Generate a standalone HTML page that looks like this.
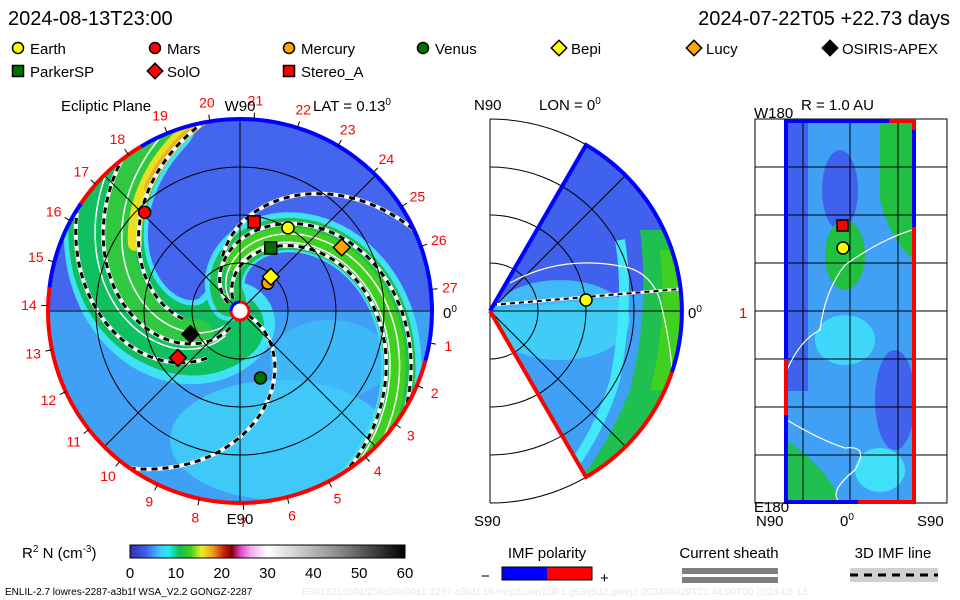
<!DOCTYPE html>
<html><head><meta charset="utf-8">
<style>
html,body{margin:0;padding:0;background:#fff;}
svg{display:block;font-family:"Liberation Sans",sans-serif;}
</style></head>
<body>
<svg id="chart" width="960" height="600" viewBox="0 0 960 600" xmlns="http://www.w3.org/2000/svg">
<defs>
  <clipPath id="circClip"><circle cx="240" cy="310" r="192"/></clipPath>
  <clipPath id="wedgeClip"><path d="M490,311 L586,145 A192,192 0 0 1 586,477 Z"/></clipPath>
  <linearGradient id="cbar" x1="0" x2="1" y1="0" y2="0">
    <stop offset="0" stop-color="#3030b0"/>
    <stop offset="0.06" stop-color="#4060f0"/>
    <stop offset="0.11" stop-color="#40c8ff"/>
    <stop offset="0.14" stop-color="#20f0f0"/>
    <stop offset="0.18" stop-color="#10c050"/>
    <stop offset="0.22" stop-color="#40d020"/>
    <stop offset="0.26" stop-color="#e8f020"/>
    <stop offset="0.30" stop-color="#f0a020"/>
    <stop offset="0.34" stop-color="#d02010"/>
    <stop offset="0.37" stop-color="#800000"/>
    <stop offset="0.40" stop-color="#e040c0"/>
    <stop offset="0.44" stop-color="#f0b0f0"/>
    <stop offset="0.50" stop-color="#ffffff"/>
    <stop offset="0.75" stop-color="#909090"/>
    <stop offset="1" stop-color="#000000"/>
  </linearGradient>
</defs>

<text x="8" y="25" font-size="20">2024-08-13T23:00</text>
<text x="950" y="25" font-size="20" text-anchor="end">2024-07-22T05  +22.73 days</text>

<g id="legend"></g>

<g>
  <text x="61" y="111" font-size="15">Ecliptic Plane</text>
  <text x="313" y="111" font-size="15">LAT = 0.13<tspan font-size="10" dy="-6">0</tspan></text>
  <g clip-path="url(#circClip)">
    <circle cx="240" cy="310" r="192" fill="#4466ee"/>
    <path d="M48,310 A192,192 0 0 0 432,310 Z" fill="#3fa0f6"/>
    <ellipse cx="280" cy="440" rx="110" ry="60" fill="#40d8fa" opacity="0.7"/>
    <ellipse cx="330" cy="360" rx="60" ry="40" fill="#40c8fa" opacity="0.6"/>
  </g>
  <g clip-path="url(#circClip)" id="eclArms"></g>
  <g id="eclGrid"></g>
  <g id="eclBorder"></g>
  <g id="eclDays"></g>
  <text x="240" y="111" font-size="15" text-anchor="middle">W90</text>
  <text x="240" y="524" font-size="15" text-anchor="middle">E90</text>
  <text x="443" y="318" font-size="15">0<tspan font-size="10" dy="-6">0</tspan></text>
  <g id="eclMarkers"></g>
  <circle cx="240" cy="311" r="9" fill="#fff" stroke="#f00" stroke-width="3"/>
  <path d="M231,311 A9,9 0 0 1 240,302" fill="none" stroke="#00f" stroke-width="3"/>
</g>

<g>
  <text x="474" y="110" font-size="15">N90</text>
  <text x="539" y="110" font-size="15">LON = 0<tspan font-size="10" dy="-6">0</tspan></text>
  <g clip-path="url(#wedgeClip)">
    <rect x="480" y="130" width="220" height="360" fill="#3fa0f6"/>
    <path d="M490,311 L586,145 A192,192 0 0 1 680,290 Z" fill="#4060ee"/>
    <ellipse cx="560" cy="320" rx="70" ry="40" fill="#40e0fa" opacity="0.7"/>
    <path d="M640,230 Q650,310 630,390 Q610,440 580,480 L700,480 L700,230 Z" fill="#20c050"/>
    <path d="M660,250 Q668,320 650,390 L700,390 L700,250 Z" fill="#40d020"/>
    <path d="M620,240 Q630,300 615,380 Q600,430 570,470" fill="none" stroke="#40e8f8" stroke-width="10"/>
  </g>
  <g id="merGrid"></g>
  <path d="M510,283 Q560,255 620,266 Q650,270 660,300 Q670,340 672,370" fill="none" stroke="#fff" stroke-width="1.2"/>
  <path d="M492,305 L680,289" stroke="#fff" stroke-width="3"/>
  <path d="M492,305 L680,289" stroke="#000" stroke-width="2" stroke-dasharray="5 4"/>
  <path d="M490,311 L586,145 A192,192 0 0 1 672,372" fill="none" stroke="#0000ff" stroke-width="4"/>
  <path d="M672,372 A192,192 0 0 1 586,477 L490,311" fill="none" stroke="#ff0000" stroke-width="4"/>
  <circle cx="586" cy="300" r="6" fill="#ffff00" stroke="#000" stroke-width="1.5"/>
  <text x="474" y="526" font-size="15">S90</text>
  <text x="688" y="318" font-size="15">0<tspan font-size="10" dy="-6">0</tspan></text>
</g>

<g>
  <text x="754" y="118" font-size="15">W180</text>
  <text x="801" y="110" font-size="15">R = 1.0 AU</text>
  <rect x="755" y="119" width="192" height="384" fill="#fff" stroke="#000"/>
  <g>
    <rect x="786" y="121" width="128" height="381" fill="#3fa0f6"/>
    <rect x="786" y="121" width="22" height="270" fill="#4060ee"/>
    <ellipse cx="840" cy="190" rx="18" ry="40" fill="#4060ee"/>
    <path d="M880,121 L914,121 L914,260 Q890,240 880,200 Z" fill="#20c040"/>
    <ellipse cx="845" cy="255" rx="20" ry="35" fill="#20c040"/>
    <ellipse cx="845" cy="340" rx="30" ry="25" fill="#40d8fa"/>
    <ellipse cx="895" cy="400" rx="20" ry="50" fill="#4060ee"/>
    <path d="M786,440 Q830,470 840,502 L786,502 Z" fill="#20c050"/>
    <ellipse cx="880" cy="470" rx="25" ry="22" fill="#40e0fa"/>
  </g>
  <g id="sphGrid"></g>
  <path d="M787,370 Q800,340 820,330 Q825,290 845,265 Q880,240 912,230" fill="none" stroke="#fff" stroke-width="1.2"/>
  <path d="M787,420 Q820,440 845,448 Q870,445 855,470 Q830,490 838,500" fill="none" stroke="#fff" stroke-width="1.2"/>
  <path d="M786,359 L786,121 L889,121" fill="none" stroke="#0000ff" stroke-width="4"/>
  <path d="M889,121 L914,121 L914,130" fill="none" stroke="#ff0000" stroke-width="4"/>
  <path d="M914,130 L914,227" fill="none" stroke="#0000ff" stroke-width="4"/>
  <path d="M914,227 L914,502 L858,502" fill="none" stroke="#ff0000" stroke-width="4"/>
  <path d="M858,502 L786,502 L786,415" fill="none" stroke="#0000ff" stroke-width="4"/>
  <path d="M786,415 L786,359" fill="none" stroke="#ff0000" stroke-width="4"/>
  <rect x="837" y="220" width="11" height="11" fill="#ff0000" stroke="#000" stroke-width="1.5"/>
  <circle cx="843" cy="248" r="6" fill="#ffff00" stroke="#000" stroke-width="1.5"/>
  <text x="739" y="318" font-size="15" fill="#ff0000">1</text>
  <text x="754" y="512" font-size="15">E180</text>
  <text x="756" y="526" font-size="15">N90</text>
  <text x="840" y="526" font-size="15">0<tspan font-size="10" dy="-6">0</tspan></text>
  <text x="917" y="526" font-size="15">S90</text>
</g>

<g>
  <text x="22" y="558" font-size="15">R<tspan font-size="10" dy="-6">2</tspan><tspan dy="6"> N (cm</tspan><tspan font-size="10" dy="-6">-3</tspan><tspan dy="6">)</tspan></text>
  <rect x="130" y="545" width="275" height="13" fill="url(#cbar)" stroke="#000" stroke-width="1"/>
  <g id="cbarTicks"></g>
</g>
<g>
  <text x="547" y="558" font-size="15" text-anchor="middle">IMF polarity</text>
  <rect x="502" y="567" width="45" height="13" fill="#0000ff"/>
  <rect x="547" y="567" width="45" height="13" fill="#ff0000"/>
  <rect x="502" y="567" width="90" height="13" fill="none" stroke="#000"/>
  <text x="481" y="581" font-size="15">−</text>
  <text x="600" y="583" font-size="15">+</text>
</g>
<g>
  <text x="729" y="558" font-size="15" text-anchor="middle">Current sheath</text>
  <rect x="682" y="568" width="96" height="6" fill="#808080"/>
  <rect x="682" y="577" width="96" height="6" fill="#808080"/>
</g>
<g>
  <text x="893" y="558" font-size="15" text-anchor="middle">3D IMF line</text>
  <rect x="850" y="568" width="88" height="14" fill="#d0d0d0"/>
  <line x1="850" y1="575" x2="938" y2="575" stroke="#000" stroke-width="3" stroke-dasharray="8 6"/>
</g>
<text x="5" y="595" font-size="10">ENLIL-2.7 lowres-2287-a3b1f WSA_V2.2 GONGZ-2287</text>
<text x="302" y="595" font-size="10" fill="#e8e8e8">E0813214501/256x30x90x1:2287-a3b1f.16-mcp1umn1cd-1.g53q5d2.gongz-2024/06/29T21:44:00T00    2024-08-13</text>
</svg>

<script>
var bodyNames = ["Earth","Mars","Mercury","Venus","Bepi","Lucy","OSIRIS-APEX","ParkerSP","SolO","Stereo_A"];
var bodyRadiusAU = [1.0, 1.43, 0.41, 0.73, 0.48, 1.25, 0.57, 0.73, 0.81, 0.94];
var bodyAngleDeg = [60, 134, 45, -73, 48, 32, 205, 64, 217, 81];
var bodyShapes = ["circle","circle","circle","circle","diamond","diamond","diamond","square","diamond","square"];
var bodyColors = ["#ffff00","#ff0000","#ffa500","#007000","#ffff00","#ffa500","#000000","#007000","#ff0000","#ff0000"];
var colorbarTicks = [0,10,20,30,40,50,60];
var dayLabels = [1,2,3,4,5,6,7,8,9,10,11,12,13,14,15,16,17,18,19,20,21,22,23,24,25,26,27];
var rangeRingsAU = [0.5,1.0,1.5];
var polaritySegStart = [-15,121,146,173];
var polaritySegEnd = [121,146,173,345];
var polaritySegSign = ["neg","pos","neg","pos"];

var NS = "http://www.w3.org/2000/svg";
var CX = 240, CY = 311, PXAU = 96, RMAX = 192;
function xOf(rAU, deg){ return CX + rAU*PXAU*Math.cos(deg*Math.PI/180); }
function yOf(rAU, deg){ return CY - rAU*PXAU*Math.sin(deg*Math.PI/180); }
function mk(tag, attrs, parent){
  var e = document.createElementNS(NS, tag);
  for (var k in attrs) e.setAttribute(k, attrs[k]);
  parent.appendChild(e); return e;
}
function spiralPath(th0, twist, r0, r1){
  var d = "";
  for (var i=0;i<=80;i++){
    var r = r0 + (r1-r0)*i/80, th = th0 + twist*r;
    d += (i?"L":"M") + xOf(r,th).toFixed(1) + "," + yOf(r,th).toFixed(1);
  }
  return d;
}

var arms = document.getElementById("eclArms");
function band(th0, tw, r0, r1, w, col){
  var p = mk("path",{d:spiralPath(th0,tw,r0,r1),fill:"none",stroke:col,"stroke-width":w,"stroke-linecap":"round"},arms);
  
  
}
function dashed(th0, tw, r0, r1){
  mk("path",{d:spiralPath(th0,tw,r0,r1),fill:"none",stroke:"#fff","stroke-width":4},arms);
  var p = mk("path",{d:spiralPath(th0,tw,r0,r1),fill:"none",stroke:"#000","stroke-width":3,"stroke-dasharray":"6 5"},arms);
  
  
}
function white(th0, tw, r0, r1){
  mk("path",{d:spiralPath(th0,tw,r0,r1),fill:"none",stroke:"#fff","stroke-width":1.5},arms);
}
band(250,-62,0.15,2.2,84,"#40e0f8");
band(248,-62,0.2,2.2,70,"#10c060");
band(240,-62,0.5,2.2,30,"#30c840");
band(228,-62,1.3,2.2,14,"#e8e020");
band(226,-62,1.6,2.2,8,"#f0b020");
band(268,-62,0.8,2.2,26,"#10c060");
white(238,-62,0.2,2.2); white(258,-62,0.3,2.2);
dashed(252,-62,0.2,2.2); dashed(225,-62,0.6,2.2); dashed(272,-62,0.6,2.2);
band(150,-95,0.15,2.2,40,"#40e0f8");
band(148,-95,0.15,2.2,32,"#20c050");
band(146,-95,0.5,2.2,16,"#40d020");
white(148,-95,0.15,2.2); white(138,-95,0.4,2.2);
dashed(160,-95,0.15,2.2); dashed(134,-95,0.15,2.2); dashed(143,-59,0.6,2.2);
dashed(337,-51,0.1,2.2);

var g = document.getElementById("eclGrid");
rangeRingsAU.forEach(function(r){
  mk("circle",{cx:CX,cy:CY,r:r*PXAU,fill:"none",stroke:"#000","stroke-width":1},g);
});
[0,45,90,135].forEach(function(a){
  mk("line",{x1:xOf(2,a),y1:yOf(2,a),x2:xOf(2,a+180),y2:yOf(2,a+180),stroke:"#000","stroke-width":1},g);
});

var bd = document.getElementById("eclBorder");
for (var i=0;i<polaritySegStart.length;i++){
  var a0=polaritySegStart[i], a1=polaritySegEnd[i];
  var large = (a1-a0)>180?1:0;
  var p = mk("path",{d:"M"+xOf(2,a0)+","+yOf(2,a0)+" A"+RMAX+","+RMAX+" 0 "+large+" 0 "+xOf(2,a1)+","+yOf(2,a1),
    fill:"none",stroke:polaritySegSign[i]=="neg"?"#0000ff":"#ff0000","stroke-width":4},bd);
  
  
}

var dl = document.getElementById("eclDays");
dayLabels.forEach(function(d){
  var a = -9.6 - (d-1)*13.23;
  mk("line",{x1:xOf(2,a),y1:yOf(2,a),x2:xOf(2.07,a),y2:yOf(2.07,a),stroke:"#000","stroke-width":1},dl);
  var t = mk("text",{x:xOf(2.2,a),y:yOf(2.2,a)+5,"font-size":14,fill:"#ff0000","text-anchor":"middle"},dl);
  t.textContent = d;
  
  
});

function marker(parent, shape, x, y, col, s){
  var e;
  if (shape=="circle") e = mk("circle",{cx:x,cy:y,r:s,fill:col,stroke:"#000","stroke-width":1.5},parent);
  else if (shape=="square") e = mk("rect",{x:x-s,y:y-s,width:2*s,height:2*s,fill:col,stroke:"#000","stroke-width":1.5},parent);
  else e = mk("path",{d:"M"+x+","+(y-s*1.4)+"L"+(x+s*1.4)+","+y+"L"+x+","+(y+s*1.4)+"L"+(x-s*1.4)+","+y+"Z",fill:col,stroke:"#000","stroke-width":1.5},parent);
  return e;
}
var mg = document.getElementById("eclMarkers");
for (var i=0;i<bodyNames.length;i++){
  var m = marker(mg, bodyShapes[i], xOf(bodyRadiusAU[i],bodyAngleDeg[i]), yOf(bodyRadiusAU[i],bodyAngleDeg[i]), bodyColors[i], 6);
  
  
}

var lg = document.getElementById("legend");
var legX = [18,155,289,423,559,694,830,18,155,289];
var legY = [48,48,48,48,48,48,48,71,71,71];
for (var i=0;i<bodyNames.length;i++){
  var m = marker(lg, bodyShapes[i], legX[i], legY[i], bodyColors[i], 5.5);
  
  
  var t = mk("text",{x:legX[i]+12,y:legY[i]+6,"font-size":15},lg);
  t.textContent = bodyNames[i];
  
  
}

var mgr = document.getElementById("merGrid");
[48,96,144,192].forEach(function(r){
  mk("path",{d:"M490,"+(311-r)+" A"+r+","+r+" 0 0 1 490,"+(311+r),fill:"none",stroke:"#000","stroke-width":1},mgr);
});
mk("line",{x1:490,y1:311,x2:682,y2:311,stroke:"#000"},mgr);
mk("line",{x1:490,y1:119,x2:490,y2:503,stroke:"#000"},mgr);
var wg = mk("g",{"clip-path":"url(#wedgeClip)"},mgr);
mk("line",{x1:490,y1:311,x2:700,y2:101,stroke:"#000"},wg);
mk("line",{x1:490,y1:311,x2:700,y2:521,stroke:"#000"},wg);

var sg = document.getElementById("sphGrid");
[167,215,263,311,359,407,455].forEach(function(y){
  mk("line",{x1:755,y1:y,x2:947,y2:y,stroke:"#000"},sg);
});
[803,850,898].forEach(function(x){
  mk("line",{x1:x,y1:119,x2:x,y2:503,stroke:"#000"},sg);
});

var ct = document.getElementById("cbarTicks");
colorbarTicks.forEach(function(v){
  var x = 130 + (v/60)*275;
  var t = mk("text",{x:x,y:578,"font-size":15,"text-anchor":"middle"},ct);
  t.textContent = v;
  
  
});
</script>
</body></html>
